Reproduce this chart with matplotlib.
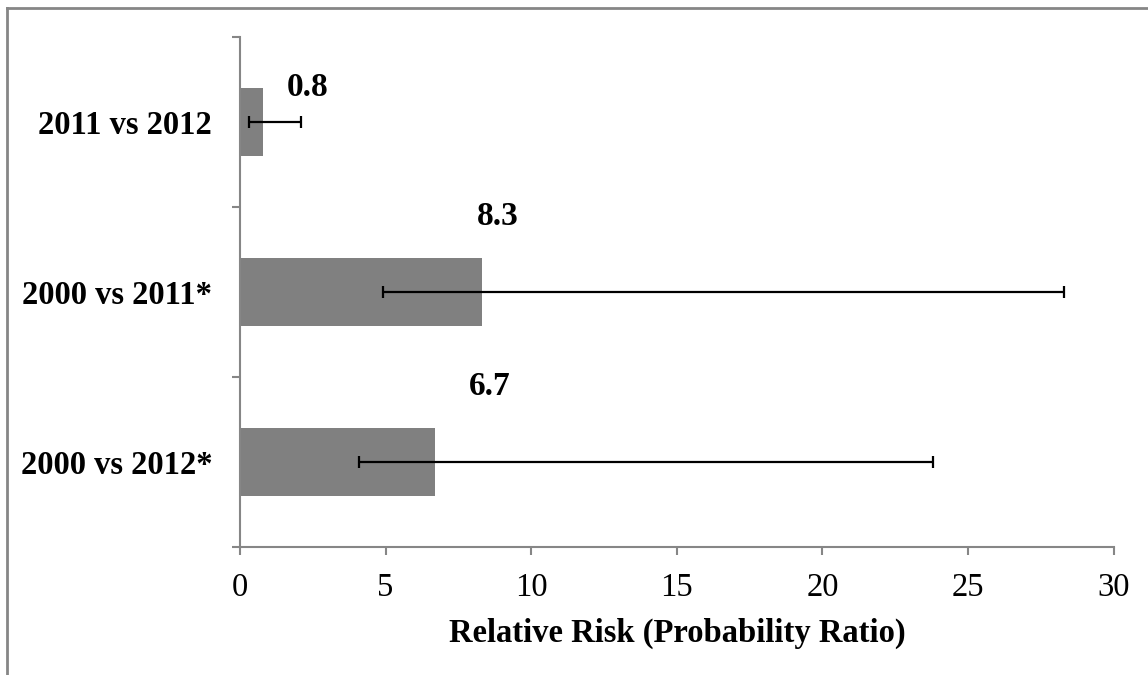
import matplotlib.pyplot as plt
from matplotlib.lines import Line2D

# data (bottom to top)
categories = ["2000 vs 2012*", "2000 vs 2011*", "2011 vs 2012"]
rr = [6.7, 8.3, 0.8]
ci_low = [4.1, 4.9, 0.3]
ci_high = [23.8, 28.3, 2.1]
labels = ["6.7", "8.3", "0.8"]

plt.rcParams['font.family'] = ['Liberation Serif', 'DejaVu Serif']
FS = 23.5

fig = plt.figure(figsize=(11.48, 6.75), dpi=100)
ax = fig.add_axes([240 / 1148, 1 - 547.3 / 675, (1113.7 - 240) / 1148, (547.3 - 37.3) / 675])

y = range(len(categories))
err = [[v - lo for v, lo in zip(rr, ci_low)], [hi - v for v, hi in zip(rr, ci_high)]]
ax.barh(y, rr, height=0.4, color='#808080', zorder=2)
ax.errorbar(rr, y, xerr=err, fmt='none', ecolor='black', elinewidth=1.6,
            capsize=4.3, capthick=1.6, zorder=3)

# value labels, nudged above/right of each bar end (pixel offsets)
offsets = [(55, 76), (16, 76), (44, 35)]
for yi, v, lab, (dx, dy) in zip(y, rr, labels, offsets):
    ax.annotate(lab, (v, yi), xytext=(dx * 0.72, dy * 0.72), textcoords='offset points',
                ha='center', va='center', fontsize=24, fontweight='bold')

ax.set_xlim(0, 30)
ax.set_ylim(-0.5, 2.5)
ax.set_xticks([0, 5, 10, 15, 20, 25, 30])
ax.set_yticks(list(y))
ax.set_yticklabels(categories, fontsize=FS, fontweight='bold')
ax.set_yticks([-0.5, 0.5, 1.5, 2.5], minor=True)
ax.tick_params(axis='y', which='major', length=0, pad=20)
ax.tick_params(axis='y', which='minor', length=5.5, width=1.5, color='#868686', direction='out')
ax.tick_params(axis='x', which='major', length=5.8, width=1.5, color='#868686',
               direction='out', labelsize=FS, pad=12)

for s in ['top', 'right']:
    ax.spines[s].set_visible(False)
for s in ['left', 'bottom']:
    ax.spines[s].set_color('#868686')
    ax.spines[s].set_linewidth(1.5)

ax.set_xlabel("Relative Risk (Probability Ratio)", fontsize=FS, fontweight='bold', labelpad=11)

# outer chart border (left and top only visible)
fig.add_artist(Line2D([7 / 1148, 7 / 1148], [0, 1 - 8 / 675], color='#868686', lw=2))
fig.add_artist(Line2D([7 / 1148, 1], [1 - 8 / 675, 1 - 8 / 675], color='#868686', lw=2))

fig.savefig('out.png', dpi=100)
